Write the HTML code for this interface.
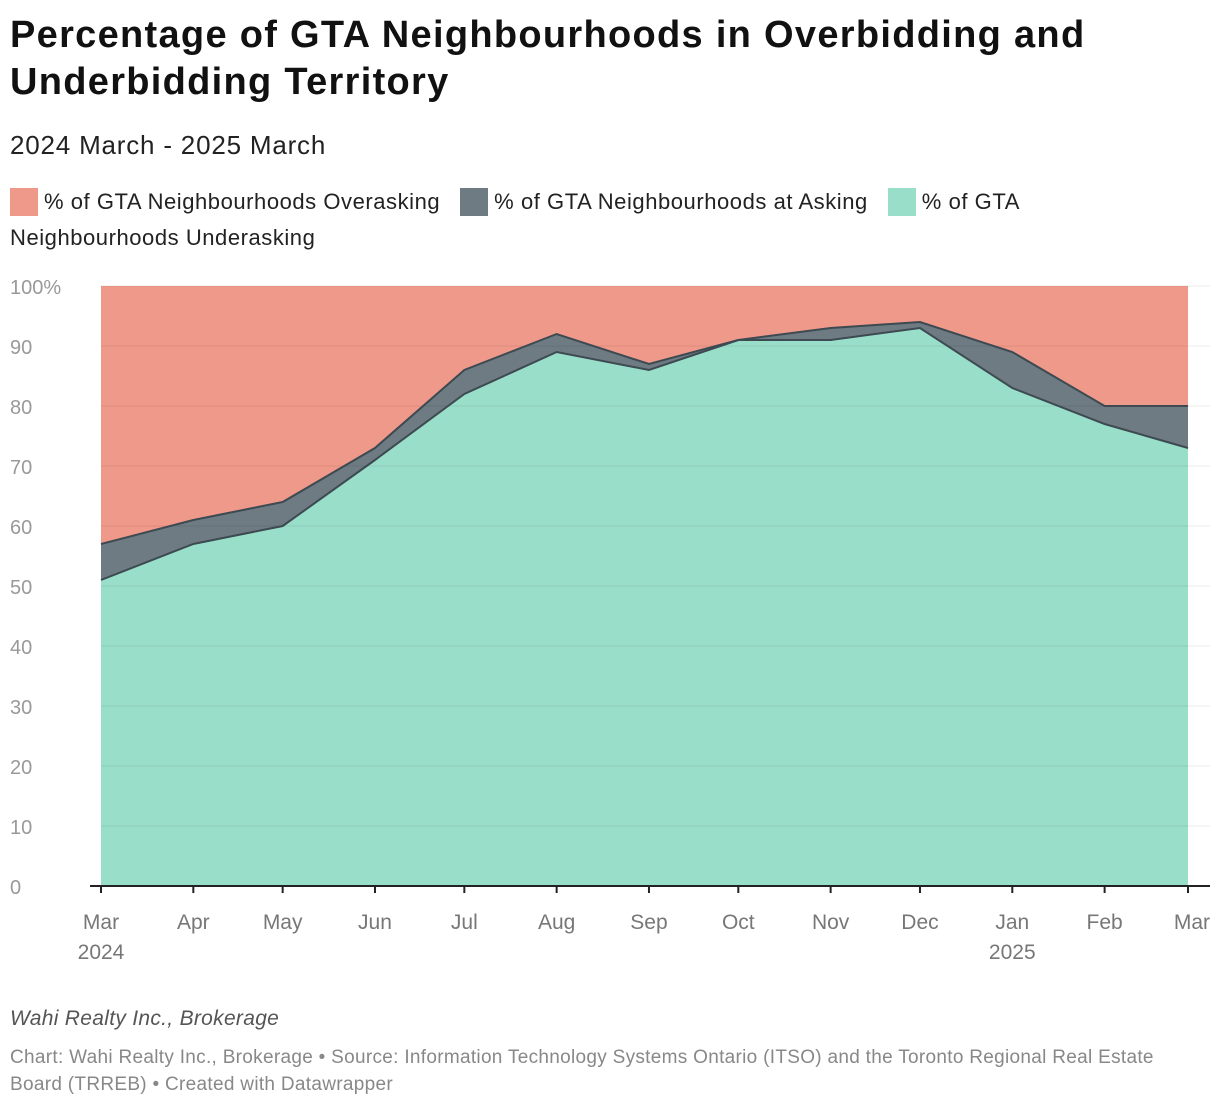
<!DOCTYPE html>
<html><head><meta charset="utf-8">
<style>
body{margin:0;background:#fff;font-family:"Liberation Sans",sans-serif;width:1220px;height:1108px;overflow:hidden;position:relative}
.t{position:absolute;left:10px;top:12px;font-size:38px;font-weight:bold;line-height:47px;color:#111;width:1200px;letter-spacing:1.3px}
.st{position:absolute;left:10px;top:130px;font-size:26px;color:#222;letter-spacing:0.8px}
.lg{position:absolute;left:10px;top:184px;font-size:22px;color:#222;line-height:36px;width:1100px;letter-spacing:0.55px}
.sw{display:inline-block;width:28px;height:28px;vertical-align:-7px;margin-right:6px}
.f1{position:absolute;left:10px;top:1007px;font-size:21px;font-style:italic;color:#555;letter-spacing:0.3px}
.f2{position:absolute;left:10px;top:1044px;font-size:19px;color:#888;line-height:27px;width:1200px;letter-spacing:0.3px}
</style></head><body>
<div class="t">Percentage of GTA Neighbourhoods in Overbidding and Underbidding Territory</div>
<div class="st">2024 March - 2025 March</div>
<div class="lg"><span><span class="sw" style="background:#ef998a"></span>% of GTA Neighbourhoods Overasking</span>&nbsp;&nbsp; <span><span class="sw" style="background:#6f7b83"></span>% of GTA Neighbourhoods at Asking</span>&nbsp;&nbsp; <span><span class="sw" style="background:#99dec9"></span>% of GTA Neighbourhoods Underasking</span></div>
<svg id="c" width="1220" height="1108" style="position:absolute;left:0;top:0"></svg>
<div class="f1">Wahi Realty Inc., Brokerage</div>
<div class="f2">Chart: Wahi Realty Inc., Brokerage • Source: Information Technology Systems Ontario (ITSO) and the Toronto Regional Real Estate Board (TRREB) • Created with Datawrapper</div>
<script>
const days=[0,31,61,92,122,153,184,214,245,275,306,337,365];
const monthLabels=["Mar","Apr","May","Jun","Jul","Aug","Sep","Oct","Nov","Dec","Jan","Feb","Mar"];
const yearLabels=["2024","","","","","","","","","","2025","",""];
const under=[51,57,60,71,82,89,86,91,91,93,83,77,73];
const atAsking=[6,4,4,2,4,3,1,0,2,1,6,3,7];
const yTicks=[0,10,20,30,40,50,60,70,80,90,100];
const NS="http://www.w3.org/2000/svg",svg=document.getElementById('c');
const xs=d=>101+d*(1087/365), ys=v=>886-v*6;
function mk(t,a){const e=document.createElementNS(NS,t);for(const k in a)e.setAttribute(k,a[k]);svg.appendChild(e);return e;}
const topVals=under.map((u,i)=>u+atAsking[i]);
const ptsU=under.map((v,i)=>xs(days[i])+','+ys(v)).join(' ');
const ptsT=topVals.map((v,i)=>xs(days[i])+','+ys(v)).join(' ');
const revU=under.map((v,i)=>xs(days[i])+','+ys(v)).reverse().join(' ');
let e;
e=mk('rect',{x:xs(0),y:ys(100),width:xs(365)-xs(0),height:600,fill:'#ef998a'});


e=mk('polygon',{points:ptsT+' '+revU,fill:'#6f7b83'});


e=mk('polygon',{points:ptsU+' '+xs(365)+','+ys(0)+' '+xs(0)+','+ys(0),fill:'#99dec9'});


yTicks.forEach(t=>{
  if(t>0){e=mk('line',{x1:101,x2:1210,y1:ys(t),y2:ys(t),stroke:'#000','stroke-opacity':0.08});
  
  }
  e=mk('text',{x:10,y:ys(t)+8,'font-size':20,fill:'#999','font-family':'Liberation Sans'});
  e.textContent=t===100?'100%':t;
  
  
});
e=mk('polyline',{points:ptsT,fill:'none',stroke:'#3d4a52','stroke-width':2});


e=mk('polyline',{points:ptsU,fill:'none',stroke:'#3d4a52','stroke-width':2});


e=mk('line',{x1:90,x2:1210,y1:886,y2:886,stroke:'#222','stroke-width':2});


days.forEach((d,i)=>{
  e=mk('line',{x1:xs(d),x2:xs(d),y1:886,y2:893,stroke:'#222','stroke-width':2});
  
  
  const anchor=i===12?'end':'middle', xx=i===12?1210:xs(d);
  e=mk('text',{x:xx,y:929,'text-anchor':anchor,'font-size':21,fill:'#777','font-family':'Liberation Sans'});
  e.textContent=monthLabels[i];
  
  
  if(yearLabels[i]){e=mk('text',{x:xs(d),y:959,'text-anchor':'middle','font-size':21,fill:'#777','font-family':'Liberation Sans'});
  e.textContent=yearLabels[i];
  
  }
});
</script>
</body></html>
